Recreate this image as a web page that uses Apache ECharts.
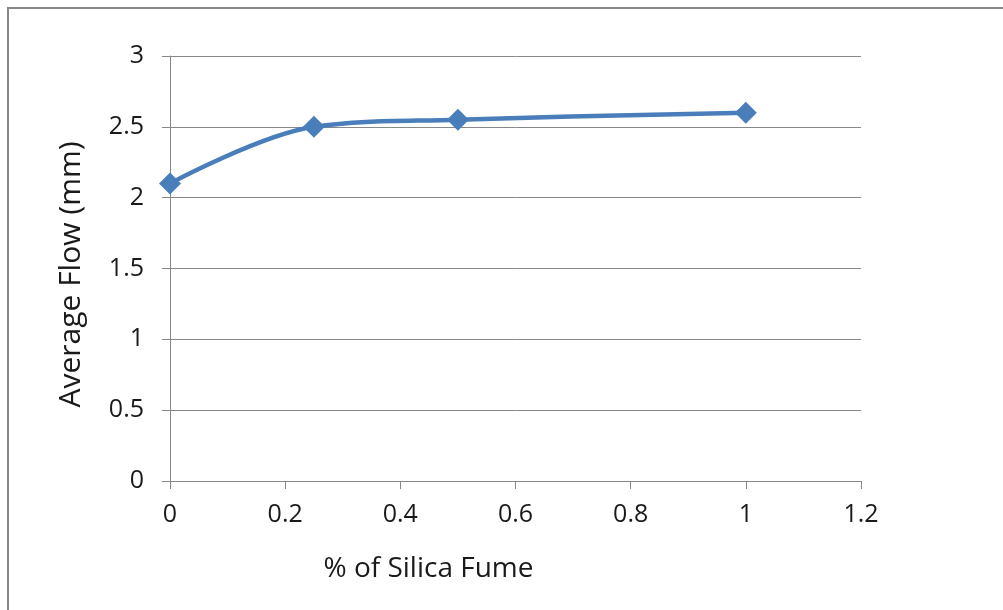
<!DOCTYPE html>
<html>
<head>
<meta charset="utf-8">
<script src="https://cdn.jsdelivr.net/npm/echarts@6/dist/echarts.min.js"></script>
<style>
  html, body { margin: 0; padding: 0; background: #fff; }
  #chart { width: 1003px; height: 610px; }
</style>
</head>
<body>
<div id="chart"></div>
<script>
// Silica fume content (%) and measured average flow (mm)
const silicaFume = [0, 0.25, 0.5, 1];
const averageFlow = [2.1, 2.5, 2.55, 2.6];

const xAxisTitle = '% of Silica Fume';
const yAxisTitle = 'Average Flow (mm)';

const FONT = '"Open Sans", "Liberation Sans", sans-serif';
const AXIS_GREY = '#888888';
const TEXT = '#1a1a1a';

const chart = echarts.init(document.getElementById('chart'));

chart.setOption({
  animation: false,
  backgroundColor: '#ffffff',
  graphic: [{
    type: 'rect',
    shape: { x: 8, y: 8, width: 1010, height: 620 },
    style: { fill: 'none', stroke: '#878787', lineWidth: 2 },
    silent: true
  }],
  grid: { left: 170, right: 142, top: 56, bottom: 129 },
  xAxis: {
    type: 'value',
    min: 0, max: 1.2, interval: 0.2,
    name: xAxisTitle,
    nameLocation: 'middle',
    nameGap: 74,
    nameTextStyle: { fontFamily: FONT, fontSize: 28, color: TEXT, padding: [0, 174, 0, 0] },
    axisLine: { show: true, lineStyle: { color: AXIS_GREY, width: 1 } },
    axisTick: { show: true, inside: false, length: 8, lineStyle: { color: AXIS_GREY } },
    axisLabel: {
      fontFamily: FONT, fontSize: 25, color: TEXT, margin: 21,
      formatter: v => String(Math.round(v * 10) / 10)
    },
    splitLine: { show: false }
  },
  yAxis: {
    type: 'value',
    min: 0, max: 3, interval: 0.5,
    name: yAxisTitle,
    nameLocation: 'middle',
    nameGap: 84,
    nameRotate: 90,
    nameTextStyle: { fontFamily: FONT, fontSize: 30, color: TEXT, padding: [0, 12, 0, 0] },
    axisLine: { show: true, lineStyle: { color: AXIS_GREY, width: 1 } },
    axisTick: { show: true, inside: false, length: 8, lineStyle: { color: AXIS_GREY } },
    axisLabel: { fontFamily: FONT, fontSize: 25, color: TEXT, margin: 26 },
    splitLine: { show: true, lineStyle: { color: AXIS_GREY, width: 1 } }
  },
  series: [{
    type: 'line',
    data: silicaFume.map((x, i) => [x, averageFlow[i]]),
    smooth: 0.35,
    symbol: 'diamond',
    symbolSize: 22,
    lineStyle: { color: '#4a7ebb', width: 4.5 },
    itemStyle: { color: '#4a7ebb' }
  }]
});
</script>
</body>
</html>
